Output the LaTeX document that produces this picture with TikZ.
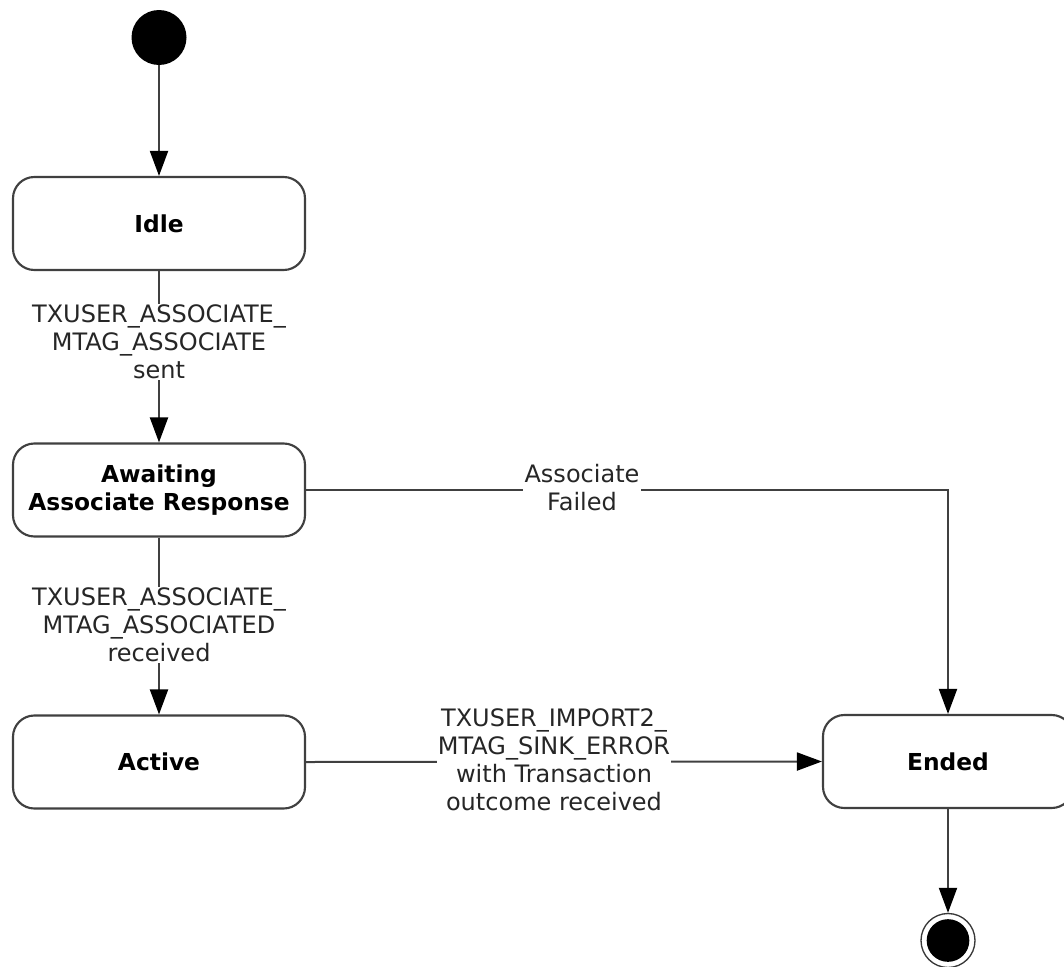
\documentclass[tikz,border=0pt]{standalone}
\usepackage{fontspec}
\setmainfont{DejaVu Sans}
\usetikzlibrary{arrows.meta}
\begin{document}
\begin{tikzpicture}[x=0.75pt,y=-0.75pt,
  state/.style={draw=black!75, line width=1.6pt, rounded corners=16pt,
    minimum width=219pt, minimum height=69.75pt, fill=white,
    font=\fontsize{17.5}{20.5}\selectfont\bfseries, align=center},
  lbl/.style={fill=white, inner sep=1pt, text=black!85,
    font=\fontsize{18}{21}\selectfont, align=center},
  conn/.style={draw=black!75, line width=1.5pt},
  arr/.style={conn, -{Triangle[length=18.75pt,width=13.5pt,color=black]}},
  dot/.style={circle, fill=black, inner sep=0pt}
]
\path[use as bounding box] (0,0) rectangle (1064,967);

\node[dot, minimum size=41.25pt] (start) at (159,37.5) {};
\node[state] (idle) at (159,223.5) {Idle};
\node[state] (await) at (159,490) {Awaiting\\Associate Response};
\node[state] (active) at (159,762) {Active};
\begin{scope}
  \clip (0,0) rectangle (1064,967);
  \node[state, minimum width=187.5pt] (ended) at (948,761.5) {Ended};
  \node[circle, draw=black!78, line width=1pt, minimum size=40.5pt, inner sep=0pt] (final) at (948,940.5) {};
  \node[dot, minimum size=32pt] (finaldot) at (final.center) {};
\end{scope}

\draw[arr] (start) -- (idle);
\draw[arr] (idle) -- (await);
\node[lbl] (l1) at (159,342) {TXUSER\_ASSOCIATE\_\\MTAG\_ASSOCIATE\\sent};
\draw[arr] (await) -- (active);
\node[lbl] (l2) at (159,625) {TXUSER\_ASSOCIATE\_\\MTAG\_ASSOCIATED\\received};
\draw[arr] (await.east) -| (ended.north);
\node[lbl] (l3) at (582,488) {Associate\\Failed};
\draw[arr] (active.east) -- (ended.west);
\node[lbl] (l4) at (554,760) {TXUSER\_IMPORT2\_\\MTAG\_SINK\_ERROR\\with Transaction\\outcome received};
\draw[arr] (ended.south) -- (final.north);
\end{tikzpicture}
\end{document}
